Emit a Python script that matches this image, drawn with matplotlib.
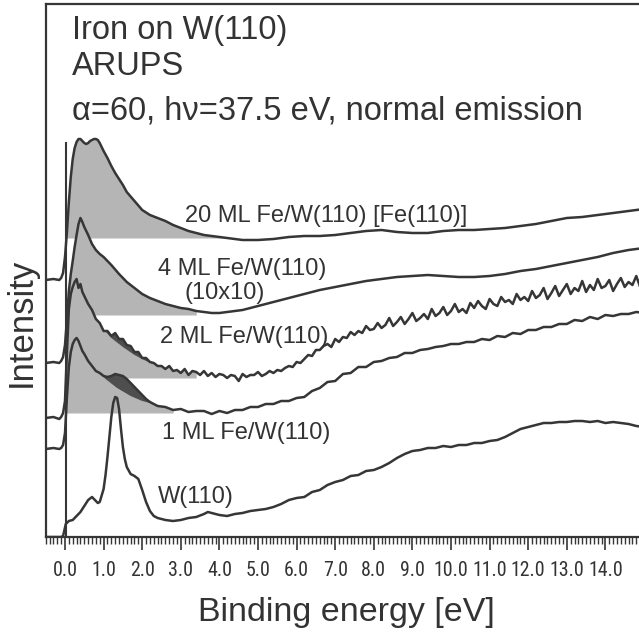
import numpy as np
import matplotlib
matplotlib.use("Agg")
import matplotlib.pyplot as plt
from matplotlib import font_manager
from matplotlib.textpath import TextPath
from matplotlib.ticker import MultipleLocator, FormatStrFormatter

# ---------------- data (binding energy in eV, intensity in arbitrary units) ----------------
E_20 = [-0.5, -0.3, -0.15, -0.1, -0.05,
        0.0, 0.05, 0.1, 0.15, 0.2, 0.25, 0.3, 0.35, 0.4, 0.45, 0.5, 0.55, 0.6, 0.65, 0.7,
        0.75, 0.8, 0.85, 0.9, 0.95, 1.0,
        1.1, 1.2, 1.3, 1.4, 1.5, 1.6,
        1.8, 2.0, 2.2, 2.4, 2.6, 2.8, 3.0, 3.2, 3.4, 3.6, 3.8, 4.0, 4.2, 4.4, 4.6, 4.8, 5.0,
        5.4, 5.8, 6.2, 6.6, 7.0, 7.4, 7.8, 8.2, 8.6, 9.0, 9.4, 9.8, 10.2, 10.6, 11.0, 11.4,
        11.8, 12.2, 12.6, 13.0, 13.4, 13.8, 14.2, 14.6, 15.0]
I_20 = [257, 258, 257, 259, 264,
        280, 305, 335, 360, 378, 389, 395, 398, 398, 396, 394, 393, 394, 396, 397,
        398, 398, 397, 394, 390, 386,
        379, 371, 364, 358, 352, 345,
        336, 327, 322, 319, 316, 312, 309, 306, 304, 302, 301, 300, 299, 298, 297, 297, 297,
        298, 300, 301, 301, 302, 304, 306, 307, 305, 304, 304, 306, 307, 307, 308, 309,
        311, 313, 316, 319, 320, 322, 324, 326, 328]

E_4 = [-0.5, -0.3, -0.15, -0.1, -0.05,
       0.0, 0.05, 0.1, 0.15, 0.2, 0.25, 0.3, 0.35, 0.4, 0.45, 0.5,
       0.6, 0.7, 0.8, 0.9, 1.0,
       1.2, 1.4, 1.6, 1.8, 2.0, 2.2, 2.4, 2.6, 2.8, 3.0, 3.2, 3.4, 3.6, 3.8, 4.0, 4.2, 4.4,
       4.6, 4.8, 5.0,
       5.4, 5.8, 6.2, 6.6, 7.0, 7.4, 7.8, 8.2, 8.6, 9.0, 9.4, 9.8, 10.2, 10.6, 11.0, 11.4,
       11.8, 12.2, 12.6, 13.0, 13.4, 13.8, 14.2, 14.6, 15.0]
I_4 = [174, 175, 174, 176, 180,
       192, 218, 246, 263, 276, 290, 302, 313, 319, 315, 310,
       302, 293, 287, 283, 280,
       272, 263, 255, 249, 243, 239, 236, 233, 231, 229, 228, 226, 225, 224, 224, 225, 226,
       227, 229, 231,
       235, 239, 243, 247, 250, 253, 256, 258, 260, 261, 262, 261, 260, 260, 261, 263,
       266, 268, 271, 274, 277, 280, 284, 287, 289]

E_2 = ([-0.5, -0.3, -0.15, -0.1, -0.05]
       + [round(0.05 * k, 2) for k in range(0, 11)]
       + [round(0.6 + 0.1 * k, 1) for k in range(0, 145)])
I_2 = [119, 120, 118, 120, 124,
       136, 185, 228, 243, 250, 255, 258, 249, 253, 245, 241,
       233, 227, 218, 214, 206, 206, 201, 204, 198, 198,
       192, 191, 185, 185, 179, 179, 175, 174, 171, 171,
       168, 171, 166, 167, 164, 168, 162, 166, 165, 162,
       166, 161, 164, 160, 163, 162, 159, 162, 161, 156,
       163, 160, 162, 162, 165, 161, 163, 166, 164, 167,
       166, 169, 171, 170, 175, 174, 178, 182, 181, 187,
       187, 191, 193, 190, 198, 195, 200, 199, 205, 202,
       206, 204, 211, 207, 208, 214, 209, 212, 219, 211,
       215, 220, 213, 218, 224, 216, 219, 223, 218, 228,
       221, 224, 230, 222, 226, 233, 225, 228, 224, 234,
       229, 236, 231, 228, 238, 233, 231, 240, 235, 237,
       233, 243, 237, 240, 236, 246, 239, 242, 249, 238,
       244, 251, 241, 247, 253, 243, 249, 246, 256, 245,
       252, 247, 258, 249, 251, 257, 246, 253, 259, 250,
       255, 252, 261, 250, 256]

E_1 = ([-0.5, -0.3, -0.15, -0.1, -0.05]
       + [round(0.05 * k, 2) for k in range(0, 11)]
       + [round(0.6 + 0.1 * k, 1) for k in range(0, 19)]
       + [round(2.6 + 0.2 * k, 1) for k in range(0, 63)])
I_1 = [88, 89, 88, 89, 92,
       104, 140, 170, 185, 193, 197, 199, 196, 191, 186, 183,
       176, 171, 166, 164, 161, 160, 161, 163, 162, 161,
       158, 154, 150, 146, 142, 138, 135, 133, 131,
       130, 127, 128, 125, 126, 126, 123, 126, 124, 127,
       127, 130, 130, 133, 133, 136, 136, 139, 140, 146,
       149, 155, 156, 163, 164, 170, 170, 175, 176, 179,
       180, 184, 184, 187, 188, 190, 191, 193, 193, 195,
       195, 198, 197, 201, 200, 204, 203, 207, 207, 210,
       210, 213, 213, 217, 216, 220, 218, 222, 221, 223,
       223, 225, 224]

E_W = [-0.5, -0.1, -0.05, -0.02, 0.02, 0.1, 0.2, 0.3, 0.4, 0.5, 0.6, 0.7, 0.8, 0.85, 0.9,
       1.0, 1.05, 1.1, 1.15, 1.2, 1.25, 1.3, 1.35, 1.4, 1.45, 1.5, 1.55, 1.6, 1.7, 1.8,
       1.9, 2.0, 2.1, 2.2, 2.3, 2.4, 2.6, 2.8, 3.0, 3.2, 3.4, 3.6, 3.7, 3.8, 4.0, 4.2,
       4.4, 4.6, 4.8, 5.0, 5.2, 5.4, 5.6, 5.8, 6.0, 6.2, 6.4, 6.6, 6.8, 7.0, 7.2, 7.4,
       7.6, 7.8, 8.0, 8.2, 8.4, 8.6, 8.8, 9.0, 9.2, 9.4, 9.6, 9.8, 10.0, 10.2, 10.4, 10.6,
       10.8, 11.0, 11.2, 11.4, 11.6, 11.8, 12.0, 12.2, 12.4, 12.6, 12.8, 13.0, 13.2, 13.4,
       13.6, 13.8, 14.0, 14.2, 14.4, 14.6, 14.8, 15.0]
I_W = [0, 0, 1, 6, 13, 16, 17, 21, 25, 31, 37, 40, 36, 34, 35,
       48, 62, 80, 100, 120, 134, 140, 139, 128, 108, 90, 78, 70, 63, 61,
       58, 47, 35, 26, 21, 19, 17, 16, 17, 19, 20, 23, 25, 24, 22, 21,
       23, 24, 26, 27, 28, 30, 33, 37, 39, 40, 45, 47, 52, 55, 57, 61,
       62, 66, 67, 70, 74, 79, 83, 86, 87, 89, 89, 91, 90, 92, 92, 94,
       94, 96, 97, 100, 104, 108, 110, 112, 114, 114, 115, 115, 116, 116,
       115, 116, 114, 115, 114, 113, 111, 110]

# shaded regions: (level, end energy) of the light-grey areas
fill_20 = (299, 4.2)
fill_4 = (222, 3.55)
fill_2 = (159, 3.4)
fill_1 = (124, 2.8)

# dark-grey difference areas: lower boundary
dark_2_E = [0.9, 1.2, 1.5, 1.8, 2.1, 2.4]
dark_2_I = [212, 199, 190, 182, 176, 171]
dark_1_E = [0.9, 1.05, 1.35, 1.7, 2.0, 2.3]
dark_1_I = [164, 158, 149, 141, 136, 133]

fermi_E = 0.03
fermi_top = 394

major_ticks = list(range(0, 15))

# ---------------- figure ----------------
W, H = 639, 640
fig = plt.figure(figsize=(W / 100, H / 100), dpi=100)


def fx(x):
    return x / W


def fy(y):
    return 1 - y / H


ax = fig.add_axes([fx(45.7), fy(537), (644 - 45.7) / W, (537 - 4) / H])
ax.set_xlim(-0.5, 15.0)
ax.set_ylim(0, 533)

LINE = "#363636"
LIGHT = "#b5b5b5"
DARK = "#4e4e4e"
TXT = "#333333"


def light_fill(E, I, spec):
    E = np.asarray(E, float)
    I = np.asarray(I, float)
    lvl, end = spec
    m = (E <= end) & (E >= -0.05)
    ax.fill_between(E[m], I[m], lvl, where=I[m] >= lvl, interpolate=True,
                    color=LIGHT, lw=0, zorder=1)


def dark_fill(E, I, dE, dI):
    E = np.asarray(E, float)
    I = np.asarray(I, float)
    m = (E >= dE[0]) & (E <= dE[-1])
    xs = np.concatenate([E[m], np.asarray(dE, float)[::-1]])
    ys = np.concatenate([I[m], np.asarray(dI, float)[::-1]])
    ax.fill(xs, ys, color=DARK, lw=0, zorder=2)


light_fill(E_20, I_20, fill_20)
light_fill(E_4, I_4, fill_4)
light_fill(E_2, I_2, fill_2)
light_fill(E_1, I_1, fill_1)
dark_fill(E_2, I_2, dark_2_E, dark_2_I)
dark_fill(E_1, I_1, dark_1_E, dark_1_I)

for E, I in [(E_20, I_20), (E_4, I_4), (E_2, I_2), (E_1, I_1), (E_W, I_W)]:
    ax.plot(E, I, color=LINE, lw=1.8, zorder=3, solid_joinstyle="round")

ax.plot([fermi_E, fermi_E], [0, fermi_top], color=LINE, lw=1.5, zorder=3)

# spines / ticks
for s in ["left", "top", "bottom"]:
    ax.spines[s].set_color(LINE)
    ax.spines[s].set_linewidth(1.6)
ax.spines["right"].set_visible(False)
ax.set_yticks([])
ax.set_xticks(major_ticks)
ax.xaxis.set_minor_locator(MultipleLocator(0.1))
ax.xaxis.set_major_formatter(FormatStrFormatter("%.1f"))
ax.tick_params(axis="x", which="major", direction="out", length=9, width=1.2,
               color=LINE, pad=8)
ax.tick_params(axis="x", which="minor", direction="out", length=5, width=1.0,
               color=LINE)

# pick a narrow face for the tick numbers if one is installed
tick_prop = None
prefs = ["LiberationSansNarrow-Regular", "RobotoCondensed-Regular",
         "OpenSans_Condensed-Regular", "OpenSansCondensed-Regular"]
files = [f.fname for f in font_manager.fontManager.ttflist]
for key in prefs:
    hit = [fn for fn in files if key.lower() in fn.lower().replace(" ", "")]
    if hit:
        tick_prop = font_manager.FontProperties(fname=hit[0])
        break
if tick_prop is None:
    tick_prop = font_manager.FontProperties(family="Liberation Sans")
# size the numbers so digits are ~15 px tall but "10.0" stays within ~32 px
h_unit = TextPath((0, 0), "0", size=1, prop=tick_prop).get_extents().height
w_unit = TextPath((0, 0), "10.0", size=1, prop=tick_prop).get_extents().width
size_px = min(15.0 / h_unit, 32.0 / w_unit)
tick_prop.set_size(size_px * 72.0 / 100.0)
for lab in ax.get_xticklabels():
    lab.set_fontproperties(tick_prop)
    lab.set_color(TXT)

SANS = "Liberation Sans"

# title block
fig.text(fx(72), fy(39), "Iron on W(110)", family=SANS, fontsize=23.5, color=TXT,
         ha="left", va="baseline")
fig.text(fx(72), fy(75), "ARUPS", family=SANS, fontsize=23.5, color=TXT,
         ha="left", va="baseline")
fig.text(fx(72), fy(120), "α=60, hν=37.5 eV, normal emission", family=SANS,
         fontsize=23.5, color=TXT, ha="left", va="baseline")

# curve labels
labels = [
    (185, 222, "20 ML Fe/W(110) [Fe(110)]"),
    (158, 275, "4 ML Fe/W(110)"),
    (185, 299, "(10x10)"),
    (160, 343, "2 ML Fe/W(110)"),
    (162, 439, "1 ML Fe/W(110)"),
    (158, 503, "W(110)"),
]
for x, y, t in labels:
    fig.text(fx(x), fy(y), t, family=SANS, fontsize=17, color=TXT, ha="left",
             va="baseline")

fig.text(fx(346), fy(621), "Binding energy [eV]", family=SANS, fontsize=24.5, color=TXT,
         ha="center", va="baseline")
fig.text(fx(21), fy(322), "Intensity", family=SANS, fontsize=25, color=TXT,
         ha="center", va="center", rotation=90)

fig.savefig("out.png", dpi=100)
